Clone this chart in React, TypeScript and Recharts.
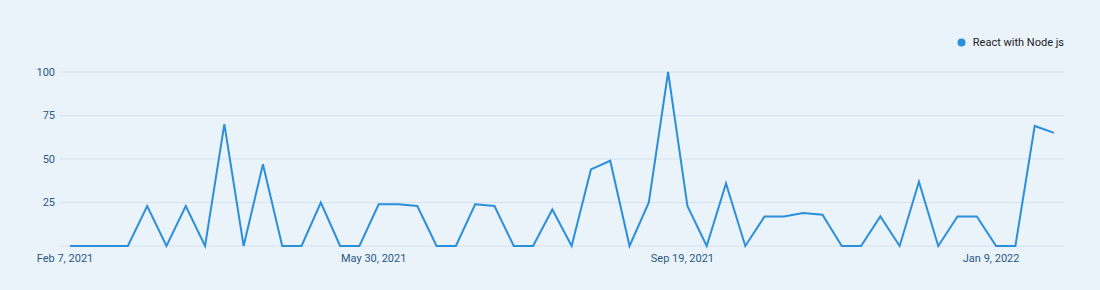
import React from "react";
import { LineChart, Line, XAxis, YAxis, CartesianGrid, Legend } from "recharts";

const weeks: string[] = [
  "Feb 7, 2021", "Feb 14, 2021", "Feb 21, 2021", "Feb 28, 2021",
  "Mar 7, 2021", "Mar 14, 2021", "Mar 21, 2021", "Mar 28, 2021",
  "Apr 4, 2021", "Apr 11, 2021", "Apr 18, 2021", "Apr 25, 2021",
  "May 2, 2021", "May 9, 2021", "May 16, 2021", "May 23, 2021", "May 30, 2021",
  "Jun 6, 2021", "Jun 13, 2021", "Jun 20, 2021", "Jun 27, 2021",
  "Jul 4, 2021", "Jul 11, 2021", "Jul 18, 2021", "Jul 25, 2021",
  "Aug 1, 2021", "Aug 8, 2021", "Aug 15, 2021", "Aug 22, 2021", "Aug 29, 2021",
  "Sep 5, 2021", "Sep 12, 2021", "Sep 19, 2021", "Sep 26, 2021",
  "Oct 3, 2021", "Oct 10, 2021", "Oct 17, 2021", "Oct 24, 2021", "Oct 31, 2021",
  "Nov 7, 2021", "Nov 14, 2021", "Nov 21, 2021", "Nov 28, 2021",
  "Dec 5, 2021", "Dec 12, 2021", "Dec 19, 2021", "Dec 26, 2021",
  "Jan 2, 2022", "Jan 9, 2022", "Jan 16, 2022", "Jan 23, 2022", "Jan 30, 2022",
];

const reactWithNode: number[] = [
  0, 0, 0, 0, 23, 0, 23, 0, 70, 0, 47, 0, 0, 25, 0, 0, 24,
  24, 23, 0, 0, 24, 23, 0, 0, 21, 0, 44, 49, 0, 25, 100, 23, 0,
  36, 0, 17, 17, 19, 18, 0, 0, 17, 0, 37, 0, 17,
  17, 0, 0, 69, 65,
];

const xTicks: string[] = ["Feb 7, 2021", "May 30, 2021", "Sep 19, 2021", "Jan 9, 2022"];
const yTicks: number[] = [0, 25, 50, 75, 100];
const seriesName = "React with Node js";

const data = weeks.map((w, i) => ({ week: w, value: reactWithNode[i] }));

const LegendContent = () => (
  <div style={{ display: "flex", alignItems: "center", fontFamily: "Roboto", fontSize: 11, color: "#222" }}>
    <svg width={9} height={9} style={{ marginRight: 7 }}>
      <circle cx={4.5} cy={4.5} r={4} fill="#2b8fdc" />
    </svg>
    <span>{seriesName}</span>
  </div>
);

export default function App() {
  return (
    <div style={{ position: "absolute", left: 0, top: 0, width: 1100, height: 290, background: "#ebf3fa" }}>
      <LineChart
        width={1100}
        height={290}
        data={data}
        margin={{ top: 59, right: 36, bottom: 14, left: 0 }}
        style={{ fontFamily: "Roboto" }}
      >
        <CartesianGrid horizontal vertical={false} stroke="#d3e2ee" strokeWidth={1} />
        <XAxis
          dataKey="week"
          ticks={xTicks}
          interval={0}
          padding={{ left: 10, right: 10 }}
          axisLine={false}
          tickLine={false}
          tickSize={0}
          tickMargin={8}
          height={30}
          tick={{ fill: "#2a5985", fontSize: 11, dx: -5 }}
        />
        <YAxis
          domain={[0, 100]}
          ticks={yTicks}
          width={60}
          axisLine={false}
          tickLine={false}
          tickSize={0}
          tickMargin={5}
          tickFormatter={(v: number) => (v === 0 ? "" : String(v))}
          tick={{ fill: "#2a5985", fontSize: 11 }}
        />
        <Legend
          verticalAlign="top"
          align="right"
          content={LegendContent}
          wrapperStyle={{ top: 36, right: 36, width: "auto" }}
        />
        <Line
          type="linear"
          dataKey="value"
          name={seriesName}
          stroke="#2b8fd9"
          strokeWidth={2}
          dot={false}
          isAnimationActive={false}
        />
      </LineChart>
    </div>
  );
}
